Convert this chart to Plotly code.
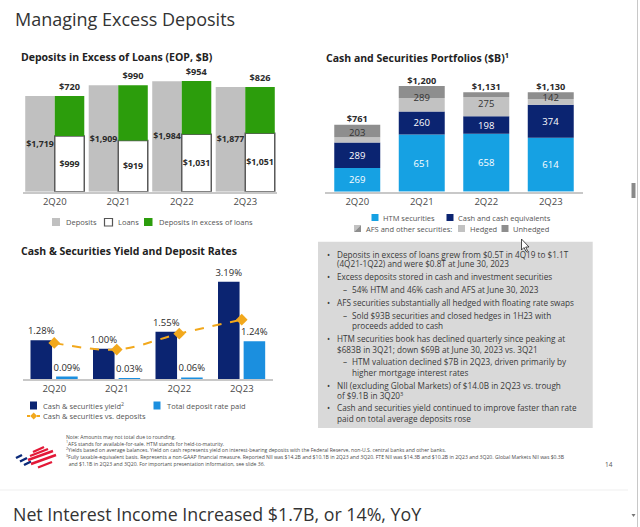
import numpy as np
import plotly.graph_objects as go

W, H = 640, 527
def X(px): return px / W
def Y(py): return 1 - py / H

quarters = ["2Q20", "2Q21", "2Q22", "2Q23"]

# Chart 1: Deposits in excess of loans (EOP, $B)
deposits = [1719, 1909, 1984, 1877]
loans = [999, 919, 1031, 1051]
excess = [720, 990, 954, 826]

# Chart 2: Cash and securities portfolios ($B)
htm = [269, 651, 658, 614]
cash_eq = [289, 260, 198, 374]
afs_hedged = [62, 155, 219, 66]
afs_unhedged = [141, 134, 56, 76]
afs_total = [203, 289, 275, 142]
portfolio_total = [761, 1200, 1131, 1130]

# Chart 3: Cash & securities yield and deposit rates (%)
cs_yield = [1.28, 1.00, 1.55, 3.19]
deposit_rate = [0.09, 0.03, 0.06, 1.24]
yield_vs_deposits = [1.19, 0.97, 1.49, 1.95]

FONT = "Open Sans"
DARK = "#2b2b2b"
GRAY_DEP = "#c0c0c0"
GREEN = "#2c9d0c"
NAVY = "#0b2471"
LBLUE = "#16a1e3"
LBLUE3 = "#1b8fdf"
HEDGED = "#c2c2c2"
UNHEDGED = "#8e8e8e"
ORANGE = "#f2a81c"

def money_b(v):
    return "<b>${:,}</b>".format(v)

fig = go.Figure()

# ---- Chart 1
LBL1 = dict(size=8.8, color=DARK, family=FONT)
fig.add_trace(go.Bar(x=quarters, y=deposits, offset=-0.465, width=0.465, marker=dict(color=GRAY_DEP, line=dict(width=0)),
                     text=[money_b(v) for v in deposits], textposition="inside", insidetextanchor="middle",
                     textangle=0, constraintext="none", textfont=LBL1,
                     xaxis="x", yaxis="y", showlegend=False, cliponaxis=False))
fig.add_trace(go.Bar(x=quarters, y=loans, offset=0, width=0.465, marker=dict(color="white", line=dict(width=1.5, color="#5a5a5a")),
                     text=[money_b(v) for v in loans], textposition="inside", insidetextanchor="middle",
                     textangle=0, constraintext="none", textfont=LBL1,
                     xaxis="x", yaxis="y", showlegend=False, cliponaxis=False))
fig.add_trace(go.Bar(x=quarters, y=excess, base=loans, offset=0, width=0.465, marker=dict(color=GREEN, line=dict(width=0)),
                     text=[money_b(v) for v in excess], textposition="outside", textangle=0, constraintext="none",
                     textfont=dict(size=9.2, color=DARK, family=FONT),
                     xaxis="x", yaxis="y", showlegend=False, cliponaxis=False))

# ---- Chart 2
htm_a = np.array(htm); cash_a = np.array(cash_eq); hed_a = np.array(afs_hedged)
fig.add_trace(go.Bar(x=quarters, y=htm, width=0.713, marker=dict(color=LBLUE, line=dict(width=0)),
                     text=[str(v) for v in htm], textposition="inside", insidetextanchor="middle", textangle=0,
                     constraintext="none", textfont=dict(size=9.5, color="white", family=FONT),
                     xaxis="x2", yaxis="y2", showlegend=False))
fig.add_trace(go.Bar(x=quarters, y=cash_eq, base=htm_a.tolist(), width=0.713, marker=dict(color=NAVY, line=dict(width=0)),
                     text=[str(v) for v in cash_eq], textposition="inside", insidetextanchor="middle", textangle=0,
                     constraintext="none", textfont=dict(size=9.5, color="white", family=FONT),
                     xaxis="x2", yaxis="y2", showlegend=False))
fig.add_trace(go.Bar(x=quarters, y=afs_hedged, base=(htm_a + cash_a).tolist(), width=0.713,
                     marker=dict(color=HEDGED, line=dict(width=0)), xaxis="x2", yaxis="y2", showlegend=False))
fig.add_trace(go.Bar(x=quarters, y=afs_unhedged, base=(htm_a + cash_a + hed_a).tolist(), width=0.713,
                     marker=dict(color=UNHEDGED, line=dict(width=0)), xaxis="x2", yaxis="y2", showlegend=False))
fig.add_trace(go.Scatter(x=quarters, y=(htm_a + cash_a + np.array(afs_total) / 2).tolist(), mode="text",
                         text=[str(v) for v in afs_total], textposition="middle center",
                         textfont=dict(size=9.5, color="#333333", family=FONT),
                         xaxis="x2", yaxis="y2", showlegend=False, cliponaxis=False))
fig.add_trace(go.Scatter(x=quarters, y=portfolio_total, mode="text",
                         text=[money_b(v) for v in portfolio_total], textposition="top center",
                         textfont=dict(size=9.2, color=DARK, family=FONT),
                         xaxis="x2", yaxis="y2", showlegend=False, cliponaxis=False))

# ---- Chart 3
fig.add_trace(go.Bar(x=quarters, y=cs_yield, offset=-0.38, width=0.345, marker=dict(color=NAVY, line=dict(width=0)),
                     text=["{:.2f}%".format(v) for v in cs_yield], textposition="outside", textangle=0,
                     constraintext="none", textfont=dict(size=9.5, color=DARK, family=FONT),
                     xaxis="x3", yaxis="y3", showlegend=False, cliponaxis=False))
fig.add_trace(go.Bar(x=quarters, y=deposit_rate, offset=0.03, width=0.345, marker=dict(color=LBLUE3, line=dict(width=0)),
                     text=["{:.2f}%".format(v) for v in deposit_rate], textposition="outside", textangle=0,
                     constraintext="none", textfont=dict(size=9.5, color=DARK, family=FONT),
                     xaxis="x3", yaxis="y3", showlegend=False, cliponaxis=False))
fig.add_trace(go.Scatter(x=quarters, y=yield_vs_deposits, mode="lines+markers",
                         line=dict(color=ORANGE, width=2, dash="dash", shape="spline", smoothing=1.0),
                         marker=dict(symbol="diamond", size=9, color=ORANGE),
                         xaxis="x3", yaxis="y3", showlegend=False, cliponaxis=False))

xcommon = dict(type="category", range=[-0.5, 3.5], showline=True, linecolor="#c8c8c8", linewidth=1.5,
               ticks="", showgrid=False, zeroline=False, fixedrange=True,
               tickfont=dict(size=9.5, color="#4a4a4a", family=FONT))
ycommon = dict(visible=False, showgrid=False, zeroline=False, fixedrange=True)

shapes = []
annotations = []

def txt(x, y, s, size=8, color="#444444", bold=False, anchor="left", family=FONT):
    if bold:
        s = "<b>" + s + "</b>"
    annotations.append(dict(x=X(x), y=Y(y), xref="paper", yref="paper", text=s, showarrow=False,
                            xanchor=anchor, yanchor="middle", align="left",
                            font=dict(size=size, color=color, family=family)))

def rect(x0, y0, x1, y1, fill, line=None, lw=0, layer="above"):
    shapes.append(dict(type="rect", xref="paper", yref="paper", x0=X(x0), x1=X(x1), y0=Y(y1), y1=Y(y0),
                       fillcolor=fill, line=dict(color=line or fill, width=lw), layer=layer))

# Titles
txt(13, 19.3, "Managing Excess Deposits", size=18, color="#333333")
txt(11, 514, "Net Interest Income Increased $1.7B, or 14%, YoY", size=17.8, color="#333333")
txt(19, 57, "Deposits in Excess of Loans (EOP, $B)", size=10.5, color="#222222", bold=True)
txt(324, 57, "Cash and Securities Portfolios ($B)<sup>1</sup>", size=10.5, color="#222222", bold=True)
txt(19, 251, "Cash & Securities Yield and Deposit Rates", size=10.5, color="#222222", bold=True)

# Legend chart 1
LG = "#555555"
rect(52, 218, 60, 226, GRAY_DEP)
txt(64, 222, "Deposits", size=7.5, color=LG)
rect(104.5, 218.5, 112.5, 226, "white", line="#555555", lw=1.2)
txt(116, 222, "Loans", size=7.5, color=LG)
rect(144, 218, 152.5, 226, GREEN)
txt(157, 222, "Deposits in excess of loans", size=7.5, color=LG)

# Legend chart 2
rect(371.5, 214, 378.5, 221, LBLUE)
txt(381, 217.7, "HTM securities", size=7.5, color=LG)
rect(446.5, 214, 453.5, 221, NAVY)
txt(456, 217.7, "Cash and cash equivalents", size=7.5, color=LG)
shapes.append(dict(type="path", xref="paper", yref="paper",
                   path="M {} {} L {} {} L {} {} Z".format(X(354), Y(232), X(361), Y(225), X(354), Y(225)),
                   fillcolor=HEDGED, line=dict(width=0)))
shapes.append(dict(type="path", xref="paper", yref="paper",
                   path="M {} {} L {} {} L {} {} Z".format(X(354), Y(232), X(361), Y(225), X(361), Y(232)),
                   fillcolor=UNHEDGED, line=dict(width=0)))
txt(363.5, 228.5, "AFS and other securities:", size=7.5, color=LG)
rect(458, 225, 465, 232, HEDGED)
txt(468, 228.5, "Hedged", size=7.5, color=LG)
rect(501.5, 225, 508.5, 232, UNHEDGED)
txt(511, 228.5, "Unhedged", size=7.5, color=LG)

# Legend chart 3
rect(30, 401.5, 37, 409.5, NAVY)
txt(41, 405.5, "Cash & securities yield<sup>2</sup>", size=7.5, color=LG)
rect(153.5, 401.5, 160.5, 409.5, LBLUE3)
txt(165, 405.5, "Total deposit rate paid", size=7.5, color=LG)
shapes.append(dict(type="line", xref="paper", yref="paper", x0=X(27), x1=X(40.5), y0=Y(416), y1=Y(416),
                   line=dict(color=ORANGE, width=2, dash="3px,2px")))
shapes.append(dict(type="path", xref="paper", yref="paper",
                   path="M {} {} L {} {} L {} {} L {} {} Z".format(X(33.7), Y(412.5), X(37.2), Y(416), X(33.7), Y(419.5), X(30.2), Y(416)),
                   fillcolor=ORANGE, line=dict(width=0)))
txt(41, 416, "Cash & securities vs. deposits", size=7.5, color=LG)

# Text box
rect(318, 241.7, 592.7, 428, "#d9d9d9", layer="below")
BT = "#3a3a3a"
BS = 8.2
bullets = [
    (254.3, "b", "Deposits in excess of loans grew from $0.5T in 4Q19 to $1.1T"),
    (263.5, "c", "(4Q21-1Q22) and were $0.8T at June 30, 2023"),
    (276.7, "b", "Excess deposits stored in cash and investment securities"),
    (289.3, "d", "54% HTM and 46% cash and AFS at June 30, 2023"),
    (302.3, "b", "AFS securities substantially all hedged with floating rate swaps"),
    (315.0, "d", "Sold $93B securities and closed hedges in 1H23 with"),
    (325.3, "e", "proceeds added to cash"),
    (338.7, "b", "HTM securities book has declined quarterly since peaking at"),
    (349.0, "c", "$683B in 3Q21; down $69B at June 30, 2023 vs. 3Q21"),
    (361.7, "d", "HTM valuation declined $7B in 2Q23, driven primarily by"),
    (372.0, "e", "higher mortgage interest rates"),
    (385.3, "b", "NII (excluding Global Markets) of $14.0B in 2Q23 vs. trough"),
    (395.0, "c", "of $9.1B in 3Q20<sup>3</sup>"),
    (407.7, "b", "Cash and securities yield continued to improve faster than rate"),
    (418.3, "c", "paid on total average deposits rose"),
]
for yy, kind, s in bullets:
    if kind == "b":
        txt(325, yy, "•", size=BS, color=BT)
        txt(334.5, yy, s, size=BS, color=BT)
    elif kind == "c":
        txt(334.5, yy, s, size=BS, color=BT)
    elif kind == "d":
        txt(340.5, yy, "–", size=BS, color=BT)
        txt(350, yy, s, size=BS, color=BT)
    else:
        txt(350, yy, s, size=BS, color=BT)

# Footnotes (one block)
footnotes = [
    "Note: Amounts may not total due to rounding.",
    "<sup>1</sup>AFS stands for available-for-sale. HTM stands for held-to-maturity.",
    "<sup>2</sup>Yields based on average balances. Yield on cash represents yield on interest-bearing deposits with the Federal Reserve, non-U.S. central banks and other banks.",
    "<sup>3</sup>Fully taxable-equivalent basis. Represents a non-GAAP financial measure. Reported NII was $14.2B and $10.1B in 2Q23 and 3Q20. FTE NII was $14.3B and $10.2B in 2Q23 and 3Q20. Global Markets NII was $0.3B",
    "\u00a0\u00a0and $1.1B in 2Q23 and 3Q20. For important presentation information, see slide 36.",
]
txt(64, 450.2, "<br>".join(footnotes), size=5.1, color="#4a4a4a")
txt(603, 464, "14", size=6.5, color="#555555")

# Logo (approximate BofA flag)
def stripe(x0, y0, x1, y1, color, w):
    shapes.append(dict(type="line", xref="paper", yref="paper", x0=X(x0), y0=Y(y0), x1=X(x1), y1=Y(y1),
                       line=dict(color=color, width=w)))
BLUE_L = "#0b2a7a"
RED_L = "#e31837"
stripe(16, 458, 22, 455, BLUE_L, 2.4)
stripe(20, 461.5, 27, 458, BLUE_L, 2.4)
stripe(24, 465, 31, 461.5, BLUE_L, 2.4)
stripe(33, 452, 44, 447, RED_L, 2.4)
stripe(30, 456, 48, 449, RED_L, 2.4)
stripe(28, 460, 53, 451, RED_L, 2.4)
stripe(31, 464, 56, 455, RED_L, 2.4)
stripe(38, 467.5, 52, 462, RED_L, 2.4)

# mouse cursor
shapes.append(dict(type="path", xref="paper", yref="paper",
                   path="M {} {} L {} {} L {} {} L {} {} L {} {} L {} {} L {} {} Z".format(
                       X(521.5), Y(239), X(521.5), Y(250), X(524), Y(247.5), X(526), Y(251.5),
                       X(527.5), Y(250.8), X(525.7), Y(247), X(529), Y(247)),
                   fillcolor="white", line=dict(color="#222222", width=0.8)))

# slide bottom separator and scrollbar
shapes.append(dict(type="line", xref="paper", yref="paper", x0=0, x1=X(628), y0=Y(490), y1=Y(490),
                   line=dict(color="#efefef", width=1)))
shapes.append(dict(type="line", xref="paper", yref="paper", x0=X(637.5), x1=X(637.5), y0=0, y1=1,
                   line=dict(color="#c8c8c8", width=1)))
shapes.append(dict(type="rect", xref="paper", yref="paper", x0=X(631.5), x1=X(635.5), y0=Y(198), y1=Y(183),
                   fillcolor="#8a8a8a", line=dict(width=0)))
shapes.append(dict(type="path", xref="paper", yref="paper",
                   path="M {} {} L {} {} L {} {} Z".format(X(631.5), Y(514), X(635.5), Y(514), X(633.5), Y(517)),
                   fillcolor="#777777", line=dict(width=0)))

fig.update_layout(
    width=W, height=H, autosize=False,
    margin=dict(l=0, r=0, t=0, b=0),
    paper_bgcolor="white", plot_bgcolor="rgba(0,0,0,0)",
    barmode="overlay", showlegend=False,
    font=dict(family=FONT, color=DARK),
    xaxis=dict(domain=[X(23), X(277)], anchor="y", **xcommon),
    yaxis=dict(domain=[Y(191.7), Y(74.7)], range=[0, 2100], anchor="x", **ycommon),
    xaxis2=dict(domain=[X(325), X(583)], anchor="y2", **xcommon),
    yaxis2=dict(domain=[Y(191.7), Y(68.5)], range=[0, 1400], anchor="x2", **ycommon),
    xaxis3=dict(domain=[X(23), X(273)], anchor="y3", **xcommon),
    yaxis3=dict(domain=[Y(379.3), Y(256.9)], range=[0, 4], anchor="x3", **ycommon),
    shapes=shapes, annotations=annotations,
)

fig.write_html("out.html", config={"displayModeBar": False},
               post_script="document.body.style.margin='0';document.body.style.overflow='hidden';")
